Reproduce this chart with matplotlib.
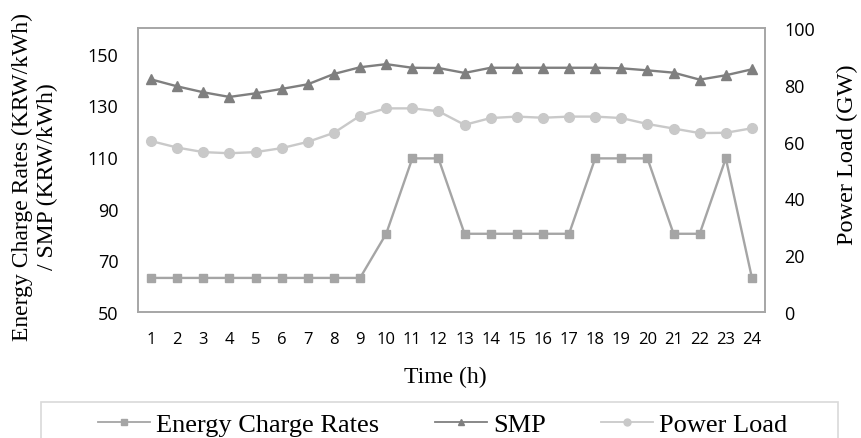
import matplotlib
matplotlib.use('Agg')
import matplotlib.pyplot as plt
from matplotlib.lines import Line2D
from matplotlib.patches import Rectangle

# Hourly data
hours = list(range(1, 25))
energy_rates = [63.2, 63.2, 63.2, 63.2, 63.2, 63.2, 63.2, 63.2, 63.2, 80.3, 109.5, 109.5,
                80.3, 80.3, 80.3, 80.3, 80.3, 109.5, 109.5, 109.5, 80.3, 80.3, 109.5, 63.2]
smp = [140.1, 137.4, 135.1, 133.3, 134.7, 136.4, 138.2, 142.2, 144.8, 146.0, 144.6, 144.5,
       142.6, 144.6, 144.6, 144.6, 144.6, 144.6, 144.4, 143.6, 142.7, 140.0, 141.7, 144.0]
power_load = [60.2, 57.9, 56.3, 55.9, 56.3, 57.7, 59.9, 63.1, 69.1, 71.7, 71.7, 70.7,
              65.9, 68.3, 68.8, 68.4, 68.8, 68.8, 68.3, 66.2, 64.6, 63.0, 63.1, 64.7]

left_ticks = [50, 70, 90, 110, 130, 150]
right_ticks = [0, 20, 40, 60, 80, 100]

c_rate = '#A5A5A5'
c_smp = '#7F7F7F'
c_load = '#C9C9C9'
frame_c = '#A6A6A6'

serif = 'Liberation Serif'
sans = 'Open Sans'

fig = plt.figure(figsize=(8.61, 4.39), dpi=100)
ax = fig.add_axes([138/861, 1 - 313/439, 627/861, 284/439])
ax2 = ax.twinx()

# Left axis series
ax.plot(hours, energy_rates, color=c_rate, lw=1.7, marker='s', ms=6, zorder=3)
ax.plot(hours, smp, color=c_smp, lw=1.7, marker='^', ms=7, zorder=3)
# Right axis series
ax2.plot(hours, power_load, color=c_load, lw=1.7, marker='o', ms=7, zorder=3)

ax.set_xlim(0.5, 24.5)
ax.set_ylim(50, 160)
ax2.set_ylim(0, 100)
ax.set_xticks(hours)
ax.set_yticks(left_ticks)
ax2.set_yticks(right_ticks)

ax.tick_params(axis='x', length=0, pad=14, labelsize=12)
ax.tick_params(axis='y', length=0, pad=14, labelsize=13)
ax2.tick_params(axis='y', length=0, pad=14, labelsize=13)
for lab in ax.get_xticklabels() + ax.get_yticklabels() + ax2.get_yticklabels():
    lab.set_fontfamily(sans)

for a in (ax, ax2):
    for sp in a.spines.values():
        sp.set_color(frame_c)
        sp.set_linewidth(1.2)

# Axis titles
fig.text(35/861, 1 - 177/439, 'Energy Charge Rates (KRW/kWh)\n/ SMP (KRW/kWh)',
         rotation=90, ha='center', va='center', multialignment='center',
         fontsize=17, family=serif, linespacing=1.2)
fig.text(847/861, 1 - 155/439, 'Power Load (GW)', rotation=90, ha='center', va='center',
         fontsize=17.5, family=serif)
fig.text(445/861, 1 - 383/439, 'Time (h)', ha='center', va='baseline',
         fontsize=17, family=serif)

# Legend with a frame that runs off the bottom edge
fig.patches.append(Rectangle((41/861, -0.1), 797/861, 0.1 + 1 - 403/439,
                             transform=fig.transFigure, fill=False,
                             edgecolor='#D9D9D9', lw=1.2))
handles = [Line2D([], [], color=c_rate, lw=1.3, marker='s', ms=5),
           Line2D([], [], color=c_smp, lw=1.3, marker='^', ms=5),
           Line2D([], [], color=c_load, lw=1.3, marker='o', ms=5)]
fig.legend(handles, ['Energy Charge Rates', 'SMP', 'Power Load'], ncol=3,
           loc='center', bbox_to_anchor=(443/861, 1 - 425/439), frameon=False,
           prop={'family': serif, 'size': 19}, handlelength=1.97,
           handletextpad=0.23, columnspacing=2.1, borderpad=0, numpoints=1)

fig.savefig('out.png', dpi=100)
